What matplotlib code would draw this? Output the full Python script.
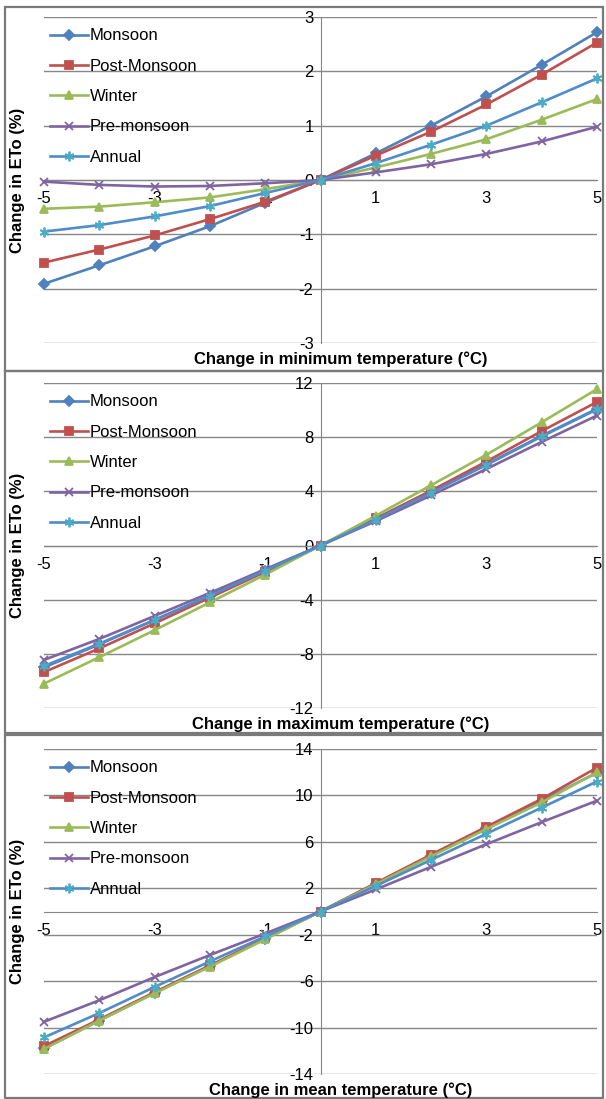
import matplotlib.pyplot as plt
import numpy as np

plt.rcParams['font.family'] = ['Liberation Sans', 'DejaVu Sans']

dt = [-5, -4, -3, -2, -1, 0, 1, 2, 3, 4, 5]
names = ['Monsoon', 'Post-Monsoon', 'Winter', 'Pre-monsoon', 'Annual']

# change in ETo (%) for change in minimum temperature
tmin_monsoon = [-1.91, -1.57, -1.22, -0.85, -0.42, 0, 0.49, 1.00, 1.54, 2.12, 2.72]
tmin_post = [-1.52, -1.28, -1.02, -0.72, -0.40, 0, 0.45, 0.89, 1.39, 1.94, 2.53]
tmin_winter = [-0.53, -0.49, -0.41, -0.32, -0.17, 0, 0.23, 0.48, 0.75, 1.11, 1.49]
tmin_pre = [-0.03, -0.09, -0.12, -0.11, -0.06, 0, 0.14, 0.29, 0.48, 0.71, 0.98]
tmin_annual = [-0.95, -0.83, -0.67, -0.48, -0.24, 0, 0.31, 0.65, 1.00, 1.43, 1.87]

# maximum temperature
tmax_monsoon = [-9.0, -7.3, -5.5, -3.7, -1.85, 0, 1.95, 3.95, 6.0, 8.1, 10.1]
tmax_post = [-9.35, -7.6, -5.75, -3.85, -1.95, 0, 2.0, 4.05, 6.2, 8.45, 10.6]
tmax_winter = [-10.2, -8.25, -6.25, -4.2, -2.15, 0, 2.2, 4.45, 6.7, 9.1, 11.55]
tmax_pre = [-8.45, -6.9, -5.2, -3.5, -1.75, 0, 1.8, 3.7, 5.65, 7.65, 9.6]
tmax_annual = [-8.9, -7.25, -5.5, -3.7, -1.85, 0, 1.9, 3.9, 5.95, 8.05, 10.05]

# mean temperature
tmean_monsoon = [-11.8, -9.4, -7.0, -4.7, -2.35, 0, 2.4, 4.8, 7.2, 9.55, 11.95]
tmean_post = [-11.6, -9.3, -6.95, -4.65, -2.3, 0, 2.45, 4.9, 7.3, 9.7, 12.4]
tmean_winter = [-11.85, -9.4, -7.05, -4.75, -2.4, 0, 2.35, 4.75, 7.1, 9.4, 12.0]
tmean_pre = [-9.5, -7.65, -5.65, -3.75, -1.9, 0, 1.9, 3.85, 5.8, 7.7, 9.55]
tmean_annual = [-10.85, -8.75, -6.5, -4.3, -2.15, 0, 2.2, 4.45, 6.7, 8.95, 11.2]

xticks = [-5, -3, -1, 1, 3, 5]

line_cols = ['#4F81BD', '#C0504D', '#9BBB59', '#8064A2', '#4F8CC9']
mark_cols = ['#4F81BD', '#C0504D', '#9BBB59', '#8064A2', '#4BACC6']
markers = ['D', 's', '^', 'x', (6, 2, 0)]
msizes = [5, 6, 6, 6, 7]

W, H = 606, 1099
fig = plt.figure(figsize=(W / 100, H / 100), dpi=100)
grey = '#878787'


def frame(top, bottom):
    r = plt.Rectangle((5 / W, 1 - bottom / H), 598 / W, (bottom - top) / H,
                      transform=fig.transFigure, fill=False, ec='#7a7a7a', lw=1.6)
    fig.add_artist(r)


def panel(top, bottom, series, lim, step, xlabel, xl_y):
    ax = fig.add_axes([44 / W, 1 - bottom / H, 553 / W, (bottom - top) / H])
    for i, ys in enumerate(series):
        ax.plot(dt, ys, color=line_cols[i], lw=1.9, marker=markers[i],
                ms=msizes[i], mfc=mark_cols[i], mec=mark_cols[i], mew=1.3,
                label=names[i], clip_on=False, zorder=3 + i)
    ax.set_xlim(-5, 5)
    ax.set_ylim(-lim, lim)
    yt = np.arange(-lim, lim + 0.1, step)
    ax.set_yticks(yt)
    ax.set_yticklabels(['%g' % v for v in yt])
    ax.set_xticks(xticks)
    ax.set_xticklabels(['%d' % v for v in xticks])
    ax.yaxis.grid(True, color=grey, lw=1)
    ax.set_axisbelow(True)
    for s in ['top', 'right']:
        ax.spines[s].set_visible(False)
    ax.spines['left'].set_position(('data', 0))
    ax.spines['bottom'].set_position(('data', 0))
    ax.spines['left'].set_color(grey)
    ax.spines['bottom'].set_color(grey)
    ax.tick_params(axis='x', length=0, pad=8, labelsize=12, colors='black')
    ax.tick_params(axis='y', length=0, pad=5, labelsize=12, colors='black')
    ax.patch.set_alpha(0)
    ax.legend(loc='upper left', bbox_to_anchor=(0.01, 0.965), frameon=False,
              fontsize=12, borderpad=0, handlelength=2.3, handletextpad=0.1,
              labelspacing=0.92, borderaxespad=0)
    fig.text(18 / W, 1 - (top + bottom) / 2 / H, 'Change in ETo (%)', rotation=90,
             ha='center', va='center', fontsize=12, fontweight='bold')
    fig.text(341 / W, 1 - xl_y / H, xlabel, ha='center', va='center',
             fontsize=12, fontweight='bold')
    return ax


frame(7, 371)
frame(371, 733)
frame(735, 1098)

panel(17, 343, [tmin_monsoon, tmin_post, tmin_winter, tmin_pre, tmin_annual],
      3, 1, 'Change in minimum temperature (°C)', 359)
panel(383, 708, [tmax_monsoon, tmax_post, tmax_winter, tmax_pre, tmax_annual],
      12, 4, 'Change in maximum temperature (°C)', 724)
panel(749, 1074, [tmean_monsoon, tmean_post, tmean_winter, tmean_pre, tmean_annual],
      14, 4, 'Change in mean temperature (°C)', 1090)

fig.savefig('out.png', dpi=100)
